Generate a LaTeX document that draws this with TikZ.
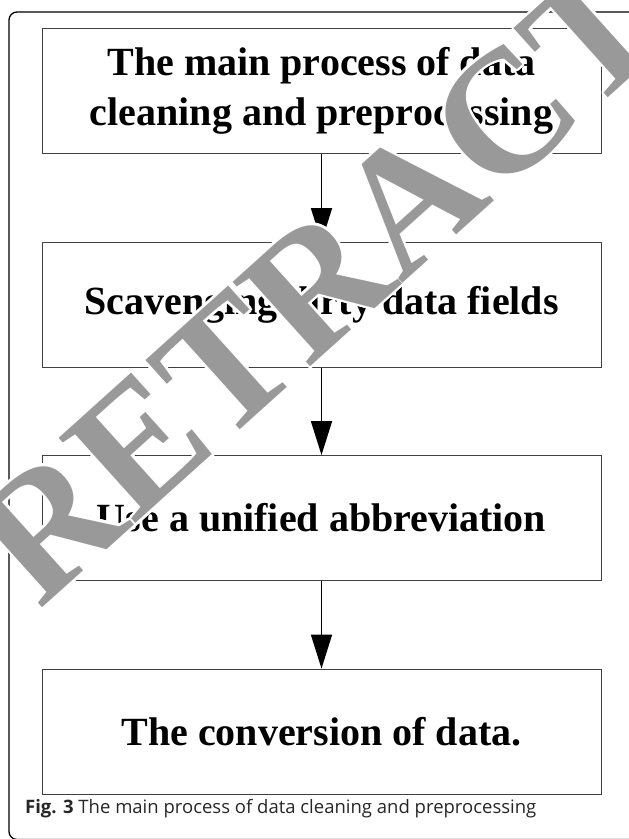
\documentclass[tikz,border=0pt]{standalone}
\usepackage{fontspec}
\usetikzlibrary{arrows.meta}
\newfontfamily\boxfont{Liberation Serif}
\newfontfamily\capfont{Open Sans}
\newfontfamily\wmfont{Liberation Serif}
\begin{document}
\begin{tikzpicture}[x=1pt,y=-1pt,
  stepbox/.style={draw=black!75, line width=0.8pt, minimum width=559pt,
    minimum height=125pt, inner sep=0pt, align=center,
    font=\boxfont\bfseries\fontsize{40}{50}\selectfont},
  flow/.style={line width=1.5pt, -{Triangle[width=21pt,length=34pt]}},
  wm/.style={rotate=42, inner sep=0pt,
    font=\wmfont\bfseries\fontsize{175}{175}\selectfont}]
\useasboundingbox (0,0) rectangle (629,839);

% outer frame of the figure panel
\draw[line width=1.3pt, rounded corners=8pt] (9,12) rectangle (680,839.5);

% process steps
\node[stepbox] (s1) at (321.5,91)    {The main process of data\\cleaning and preprocessing};
\node[stepbox] (s2) at (321.5,305)   {Scavenging dirty data fields};
\node[stepbox] (s3) at (321.5,518)   {Use a unified abbreviation};
\node[stepbox] (s4) at (321.5,731.5) {The conversion of data.};

\draw[flow] (s1) -- (s2);
\draw[flow] (s2) -- (s3);
\draw[flow] (s3) -- (s4);

% caption
\node[anchor=base west, inner sep=0pt, text=black!85,
  font=\capfont\fontsize{18.5}{18.5}\selectfont] (cap) at (25,813)
  {\bfseries Fig. 3\mdseries\ The main process of data cleaning and preprocessing};

% watermark: white halo first, grey letters on top
\coordinate (wmc) at (410,200);
\foreach \a in {0,22.5,...,337.5}
  \node[wm, text=white, shift={(\a:2.5)}] at (wmc) {RETRACTED};
\node[wm, text=black!40] (wm) at (wmc) {RETRACTED};
\end{tikzpicture}
\end{document}
